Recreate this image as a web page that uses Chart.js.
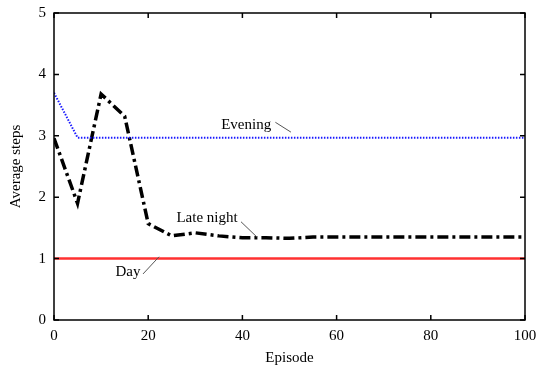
<!DOCTYPE html>
<html>
<head>
<meta charset="utf-8">
<script src="https://cdn.jsdelivr.net/npm/chart.js@4.4.0/dist/chart.umd.min.js"></script>
<style>
  html, body { margin: 0; padding: 0; background: #fff; }
  #wrap { width: 537px; height: 370px; }
</style>
</head>
<body>
<div id="wrap"><canvas id="c" width="537" height="370"></canvas></div>
<script>
// --- data ---
const episodes  = [0, 5, 10, 15, 20, 25, 30, 35, 40, 45, 50, 55, 60, 65, 70, 75, 80, 85, 90, 95, 100];
const lateNight = [2.96, 1.9, 3.68, 3.32, 1.57, 1.37, 1.42, 1.37, 1.34, 1.34, 1.33, 1.35, 1.35, 1.35, 1.35, 1.35, 1.35, 1.35, 1.35, 1.35, 1.35];
const evening   = [3.7, 2.97, 2.97, 2.97, 2.97, 2.97, 2.97, 2.97, 2.97, 2.97, 2.97, 2.97, 2.97, 2.97, 2.97, 2.97, 2.97, 2.97, 2.97, 2.97, 2.97];
const day       = [1, 1, 1, 1, 1, 1, 1, 1, 1, 1, 1, 1, 1, 1, 1, 1, 1, 1, 1, 1, 1];
const xTicks = [0, 20, 40, 60, 80, 100];
const yTicks = [0, 1, 2, 3, 4, 5];

// label text, label anchor, leader line (all in data units)
const notes = [
    { text: 'Evening',    at: [40.8, 3.18], from: [47.0, 3.22], to: [50.3, 3.06] },
    { text: 'Late night', at: [32.5, 1.66], from: [39.7, 1.60], to: [43.1, 1.35] },
    { text: 'Day',        at: [15.7, 0.78], from: [18.9, 0.75], to: [22.3, 1.03] },
];

const FONT = 'Liberation Serif, Times New Roman, serif';

function pts(ys) {
    return episodes.map((x, i) => ({ x, y: ys[i] }));
}

// box + inward ticks on all four sides, plus the annotation labels
const framePlugin = {
    id: 'frame',
    afterDraw(chart) {
        const { ctx, chartArea: a, scales: { x, y } } = chart;
        const t = 5;
        ctx.save();
        ctx.strokeStyle = '#000';
        ctx.lineWidth = 1.5;
        ctx.strokeRect(a.left, a.top, a.right - a.left, a.bottom - a.top);
        ctx.beginPath();
        xTicks.forEach(v => {
            const px = x.getPixelForValue(v);
            ctx.moveTo(px, a.bottom); ctx.lineTo(px, a.bottom - t);
            ctx.moveTo(px, a.top); ctx.lineTo(px, a.top + t);
        });
        yTicks.forEach(v => {
            const py = y.getPixelForValue(v);
            ctx.moveTo(a.left, py); ctx.lineTo(a.left + t, py);
            ctx.moveTo(a.right, py); ctx.lineTo(a.right - t, py);
        });
        ctx.stroke();

        ctx.font = '15px ' + FONT;
        ctx.fillStyle = '#000';
        ctx.textAlign = 'center';
        ctx.textBaseline = 'middle';
        ctx.strokeStyle = '#555';
        ctx.lineWidth = 1;
        notes.forEach(n => {
            ctx.fillText(n.text, x.getPixelForValue(n.at[0]), y.getPixelForValue(n.at[1]));
            ctx.beginPath();
            ctx.moveTo(x.getPixelForValue(n.from[0]), y.getPixelForValue(n.from[1]));
            ctx.lineTo(x.getPixelForValue(n.to[0]), y.getPixelForValue(n.to[1]));
            ctx.stroke();
        });
        ctx.restore();
    }
};

new Chart(document.getElementById('c'), {
    type: 'line',
    data: {
        datasets: [
            {
                label: 'Day',
                data: pts(day),
                borderColor: '#ff3030',
                borderWidth: 2.5,
                pointRadius: 0,
                tension: 0,
            },
            {
                label: 'Evening',
                data: pts(evening),
                borderColor: '#1a1aff',
                borderWidth: 2,
                borderDash: [1.5, 1.5],
                pointRadius: 0,
                tension: 0,
            },
            {
                label: 'Late night',
                data: pts(lateNight),
                borderColor: '#000',
                borderWidth: 3.5,
                borderDash: [11, 4, 3, 4],
                pointRadius: 0,
                tension: 0,
            },
        ],
    },
    options: {
        responsive: false,
        animation: false,
        layout: { padding: { top: 13, right: 12, left: 0, bottom: 0 } },
        plugins: { legend: { display: false }, tooltip: { enabled: false } },
        scales: {
            x: {
                type: 'linear',
                min: 0,
                max: 100,
                afterBuildTicks: s => { s.ticks = xTicks.map(v => ({ value: v })); },
                afterFit: s => { s.height = 50; s.paddingLeft = 0; s.paddingRight = 0; },
                grid: { display: false, drawTicks: false },
                border: { display: false },
                ticks: { padding: 7, color: '#000', font: { family: FONT, size: 15 }, maxRotation: 0 },
                title: { display: true, text: 'Episode', color: '#000', font: { family: FONT, size: 15 }, padding: { top: 0, bottom: 3 } },
            },
            y: {
                min: 0,
                max: 5,
                afterBuildTicks: s => { s.ticks = yTicks.map(v => ({ value: v })); },
                afterFit: s => { s.width = 54; s.paddingTop = 0; s.paddingBottom = 0; },
                grid: { display: false, drawTicks: false },
                border: { display: false },
                ticks: { padding: 8, color: '#000', font: { family: FONT, size: 15 } },
                title: { display: true, text: 'Average steps', color: '#000', font: { family: FONT, size: 15 }, padding: { top: 7, bottom: 0 } },
            },
        },
    },
    plugins: [framePlugin],
});
</script>
</body>
</html>
